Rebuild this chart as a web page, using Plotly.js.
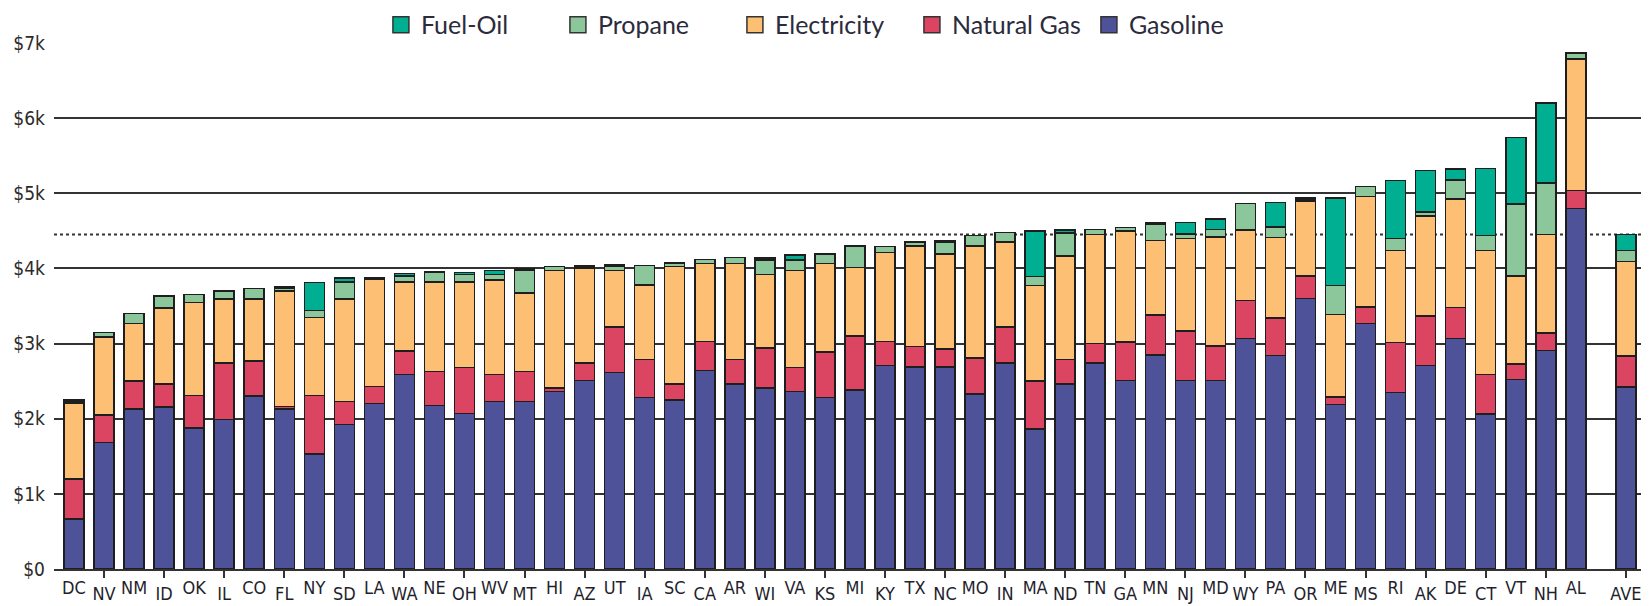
<!DOCTYPE html>
<html>
<head>
<meta charset="utf-8">
<script src="https://cdn.plot.ly/plotly-3.0.1.min.js"></script>
<style>
  html, body { margin: 0; padding: 0; background: #ffffff; }
  #chart { width: 1652px; height: 606px; }
</style>
</head>
<body>
<div id="chart"></div>
<script>
// ---------------- DATA ----------------
const categories = ['DC','NV','NM','ID','OK','IL','CO','FL','NY','SD','LA','WA','NE','OH','WV','MT','HI','AZ','UT','IA','SC','CA','AR','WI','VA','KS','MI','KY','TX','NC','MO','IN','MA','ND','TN','GA','MN','NJ','MD','WY','PA','OR','ME','MS','RI','AK','DE','CT','VT','NH','AL','AVE'];

const gasoline    = [665,1686,2130,2155,1876,1990,2300,2130,1530,1920,2200,2590,2175,2070,2230,2230,2360,2510,2615,2280,2250,2640,2460,2410,2360,2280,2380,2710,2690,2690,2330,2740,1866,2460,2740,2510,2850,2510,2510,3065,2840,3600,2190,3270,2350,2710,3065,2060,2525,2910,4800,2420];
const naturalGas  = [531,364,370,309,434,750,470,30,780,310,230,310,455,610,360,400,50,230,605,505,210,390,325,530,320,610,720,320,270,235,480,480,634,325,260,510,530,660,455,505,500,300,100,220,665,660,415,530,205,230,240,415];
const electricity = [1010,1040,770,1011,1235,855,825,1540,1038,1365,1420,920,1190,1140,1255,1040,1565,1260,755,995,1565,1035,1280,980,1290,1175,915,1185,1340,1270,1490,1135,1270,1380,1450,1475,995,1230,1455,940,1070,990,1100,1470,1225,1330,1445,1650,1170,1310,1750,1255];
const propane     = [15,55,130,155,105,105,135,40,92,225,10,80,130,100,75,305,50,15,50,260,45,55,80,190,140,125,275,75,50,155,140,125,120,305,70,50,215,60,100,355,140,20,380,130,160,50,255,200,960,690,75,150];
const fuelOil     = [25,0,0,10,0,0,0,10,370,50,10,30,0,25,50,20,0,15,20,0,0,0,0,30,70,0,15,0,0,25,0,0,610,40,0,0,20,150,140,0,330,30,1170,0,770,550,140,890,880,1060,10,210];

const yTickValues = [0,1000,2000,3000,4000,5000,6000,7000];
const yTickLabels = ['$0','$1k','$2k','$3k','$4k','$5k','$6k','$7k'];

// ---------------- STYLE / LAYOUT ----------------
const series = [
  {name:'Gasoline',    values: gasoline,    color:'#4E5299'},
  {name:'Natural Gas', values: naturalGas,  color:'#DC4562'},
  {name:'Electricity', values: electricity, color:'#FDBF73'},
  {name:'Propane',     values: propane,     color:'#8BC79B'},
  {name:'Fuel-Oil',    values: fuelOil,     color:'#00AE91'}
];

const AVE_GAP = 1.67;            // extra spacing before the average bar
const n = categories.length;
const xPos = categories.map((c, i) => (i === n - 1 ? (n - 2) + AVE_GAP : i));
const xRange = [-0.666, xPos[n - 1] + 0.5];

const upperIdx = [], lowerIdx = [];
categories.forEach((c, i) => (i % 2 === 0 ? upperIdx : lowerIdx).push(i));

const aveIdx = n - 1;
const aveTotal = series.reduce((s, t) => s + t.values[aveIdx], 0);

const tickFont = {family: '"Liberation Sans Narrow", "DejaVu Sans Condensed", "Arial Narrow", sans-serif', size: 18, color: '#1f1f2e'};

const traces = series.map(s => ({
  type: 'bar',
  name: s.name,
  x: xPos,
  y: s.values,
  customdata: categories,
  textposition: 'none',
  marker: {color: s.color, line: {color: '#1e1e1e', width: 1.5}},
  showlegend: false,
  hovertemplate: '%{customdata}: $%{y}<extra>' + s.name + '</extra>'
}));

// legend entries (larger swatches than bar legend symbols)
const legendOrder = ['Fuel-Oil','Propane','Electricity','Natural Gas','Gasoline'];
legendOrder.forEach(name => {
  const s = series.find(t => t.name === name);
  traces.push({
    type: 'scatter', mode: 'markers', name: s.name,
    x: [null], y: [null], xaxis: 'x2', yaxis: 'y',
    marker: {symbol: 'square', size: 18, color: s.color, line: {color: '#333', width: 1.5}},
    hoverinfo: 'skip', showlegend: true
  });
});

const layout = {
  width: 1652, height: 606,
  paper_bgcolor: '#ffffff', plot_bgcolor: '#ffffff',
  margin: {l: 54, r: 11, t: 43, b: 37, autoexpand: false},
  barmode: 'stack',
  bargap: 0.334,
  showlegend: true,
  legend: {
    orientation: 'h', traceorder: 'normal',
    entrywidth: 132, entrywidthmode: 'pixels',
    x: 0.206, xanchor: 'left', y: 1.078, yanchor: 'top',
    font: {family: 'Lato, "Open Sans", sans-serif', size: 25, color: '#2b2b3c'},
    bgcolor: 'rgba(0,0,0,0)', itemclick: false, itemdoubleclick: false
  },
  xaxis: {
    range: xRange, tickmode: 'array',
    tickvals: upperIdx.map(i => xPos[i]), ticktext: upperIdx.map(i => categories[i]),
    ticks: '', showgrid: false, zeroline: false,
    showline: true, linecolor: '#333', linewidth: 2,
    tickfont: tickFont, ticklabelstandoff: 1, fixedrange: true
  },
  xaxis2: {
    overlaying: 'x', anchor: 'y', side: 'bottom',
    range: xRange, tickmode: 'array',
    tickvals: lowerIdx.map(i => xPos[i]), ticktext: lowerIdx.map(i => categories[i]),
    ticks: 'outside', ticklen: 8, tickwidth: 2, tickcolor: '#333',
    showgrid: false, zeroline: false, showline: false,
    tickfont: tickFont, ticklabelstandoff: 0, fixedrange: true
  },
  yaxis: {
    range: [0, 7000], tickmode: 'array',
    tickvals: yTickValues, ticktext: yTickLabels,
    ticks: '', showgrid: true, gridcolor: '#333', gridwidth: 2,
    zeroline: false, showline: false,
    tickfont: {family: '"DejaVu Sans Condensed", "DejaVu Sans", sans-serif', size: 19, color: '#2b2b2b'},
    ticklabelstandoff: 8, fixedrange: true
  },
  shapes: [{
    type: 'line', xref: 'paper', x0: 0, x1: 1, yref: 'y', y0: aveTotal, y1: aveTotal,
    line: {color: '#333', width: 2, dash: 'dot'}, layer: 'below'
  }]
};

Plotly.newPlot('chart', traces, layout, {displayModeBar: false, staticPlot: true});
</script>
</body>
</html>
